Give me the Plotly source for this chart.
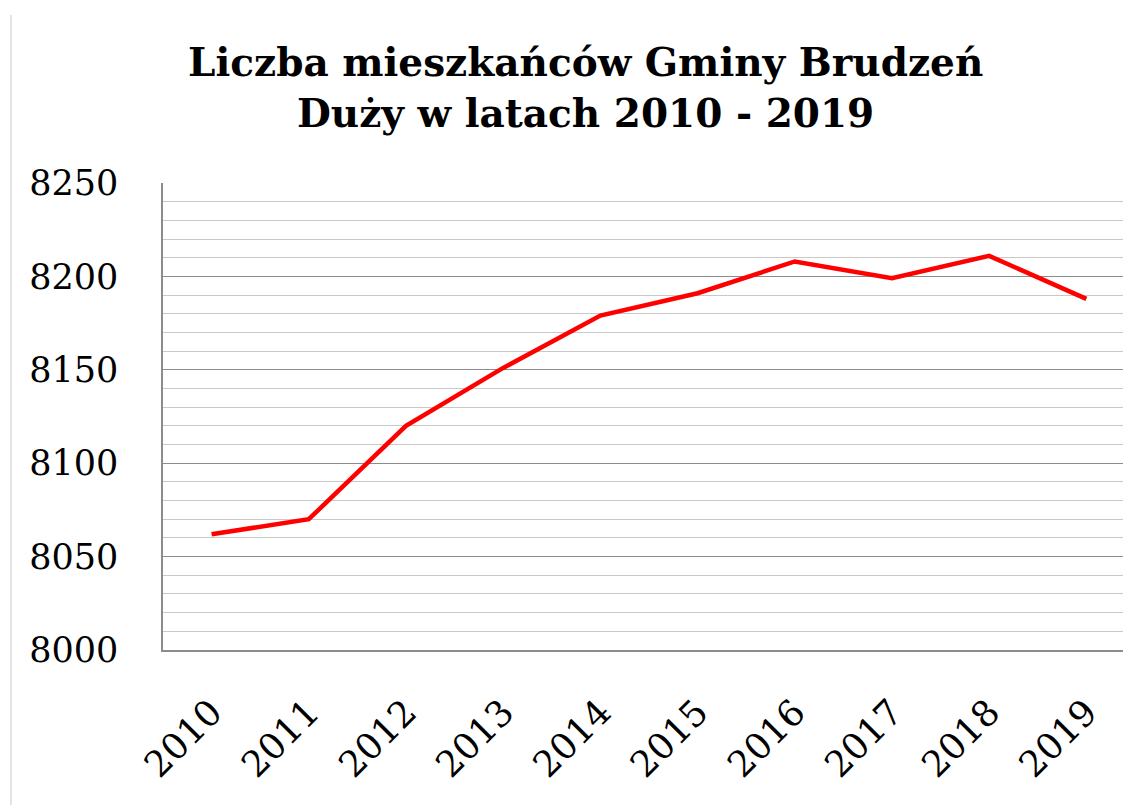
import plotly.graph_objects as go

years = ["2010", "2011", "2012", "2013", "2014", "2015", "2016", "2017", "2018", "2019"]
residents = [8062, 8070, 8120, 8151, 8179, 8191, 8208, 8199, 8211, 8188]
y_ticks = [8000, 8050, 8100, 8150, 8200, 8250]

L, T, W, H = 163, 183, 1123, 805
PW, PH = W - L, 467
B = H - T - PH

fig = go.Figure()
fig.add_trace(go.Scatter(
    x=list(range(len(years))), y=residents, mode="lines",
    line=dict(color="#ff0000", width=4.5), showlegend=False, hoverinfo="skip",
))

fig.update_layout(
    width=W, height=H,
    margin=dict(l=L, r=0, t=T, b=B, autoexpand=False),
    paper_bgcolor="white", plot_bgcolor="white",
    xaxis=dict(
        range=[-0.5, 9.377], automargin=False,
        tickmode="array", tickvals=list(range(len(years))), ticktext=years,
        tickangle=-45, ticks="", showgrid=False, zeroline=False,
        showline=True, linecolor="#8c8c8c", linewidth=1.5,
        ticklabelstandoff=25,
        tickfont=dict(family="DejaVu Serif", size=36, color="black"),
    ),
    yaxis=dict(
        range=[8000, 8250], tickmode="array", tickvals=y_ticks, automargin=False,
        ticks="", showgrid=True, gridcolor="#8c8c8c", gridwidth=1.2,
        zeroline=False, showline=True, linecolor="#8c8c8c", linewidth=1.5,
        mirror=True, ticklabelstandoff=36,
        tickfont=dict(family="DejaVu Serif", size=35, color="black"),
        minor=dict(dtick=10, tick0=8000, showgrid=True, gridcolor="#c8c8c8", gridwidth=1.2),
    ),
)

fig.add_annotation(
    text="<b>Liczba mieszkańców Gminy Brudzeń<br>Duży w latach 2010 - 2019</b>",
    xref="paper", yref="paper", x=(585 - L) / PW, y=(H - B - 87) / PH,
    xanchor="center", yanchor="middle", showarrow=False,
    font=dict(family="DejaVu Serif", size=39, color="black"),
)

fig.add_shape(type="line", xref="paper", yref="paper",
              x0=(11 - L) / PW, x1=(11 - L) / PW,
              y0=-B / PH, y1=(H - B - 15) / PH,
              line=dict(color="#c8c8c8", width=1))

fig.write_html(
    "out.html",
    config={"displayModeBar": False},
    post_script="document.body.style.margin='0';document.body.style.overflow='hidden';",
)
